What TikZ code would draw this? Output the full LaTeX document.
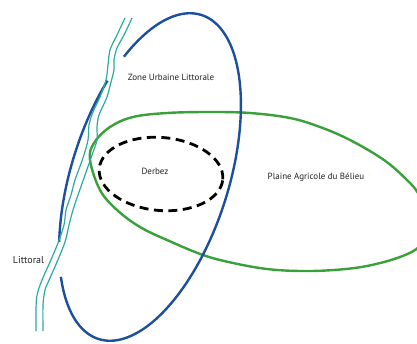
\documentclass[tikz,border=0pt]{standalone}
\usepackage{fontspec}
\setmainfont{PT Sans}
\definecolor{zblue}{RGB}{28,80,158}
\definecolor{zgreen}{RGB}{58,160,58}
\definecolor{zteal}{RGB}{45,170,160}
\definecolor{ztext}{RGB}{35,35,35}
\begin{document}
\begin{tikzpicture}[x=1pt,y=1pt,
  zoneline/.style={draw=zblue,line width=2.4pt},
  plainline/.style={draw=zgreen,line width=2.4pt},
  riverline/.style={draw=zteal,line width=1.2pt},
  derbezline/.style={draw=black,line width=2.8pt,dash pattern=on 9pt off 5.5pt},
  lbl/.style={text=ztext,inner sep=0pt,font=\fontsize{9}{10}\selectfont}]
\path[use as bounding box] (0,0) rectangle (417,343);
\fill[white] (0,0) rectangle (417,343);
\clip (0,0) rectangle (417,343);
% green: Plaine Agricole
\draw[plainline] plot[smooth cycle,tension=0.6] coordinates {
 (90,183) (94,200) (110,216) (133,226) (167,230) (210,231) (250,230) (290,225)
 (320,216) (350,203) (384,183) (407,163) (418,150) (426,133) (428,115) (420,97)
 (400,86) (367,77) (334,73) (300,72) (267,74) (233,80) (203,88) (167,103)
 (140,116) (117,133) (100,153)};
% dashed: Derbez
\draw[derbezline,rotate around={-5:(161,169)}] (161,169) ellipse[x radius=62,y radius=36.5];
% blue: Zone Urbaine Littorale
\draw[zoneline] plot[domain=135.9:411.1,samples=120,smooth]
 ({150+170*cos(\x)*cos(72.4)-78.7*sin(\x)*sin(72.4)},{166+170*cos(\x)*sin(72.4)+78.7*sin(\x)*cos(72.4)});
\draw[zoneline] plot[domain=62.3:121.7,samples=40,smooth]
 ({150+170*cos(\x)*cos(72.4)-78.7*sin(\x)*sin(72.4)},{166+170*cos(\x)*sin(72.4)+78.7*sin(\x)*cos(72.4)});
% river
\draw[riverline] plot[smooth,tension=0.5] coordinates {
 (125,325) (117,308) (110,293) (108,278) (106,263) (100,246) (93,231) (89,218)
 (88,203) (83,185) (75,163) (71,148) (66,133) (64,118) (58,100) (50,81) (42,63)
 (37,48) (36,33) (36,12)};
\draw[riverline] plot[smooth,tension=0.5] coordinates {
 (132,325) (124,308) (117,295) (114,283) (114,273) (111,261) (107,246) (99,228)
 (97,216) (97,203) (92,188) (84,165) (78,148) (73,133) (69,118) (65,101) (57,81)
 (50,65) (45,53) (43,38) (43,12)};
% labels
\node[lbl] (zone) at (171,266) {Zone Urbaine Littorale};
\node[lbl] (derbez) at (155,172) {Derbez};
\node[lbl] (plaine) at (316,166) {Plaine Agricole du Bélieu};
\node[lbl,font=\fontsize{10}{11}\selectfont] (littoral) at (28.5,83) {Littoral};
\end{tikzpicture}
\end{document}
